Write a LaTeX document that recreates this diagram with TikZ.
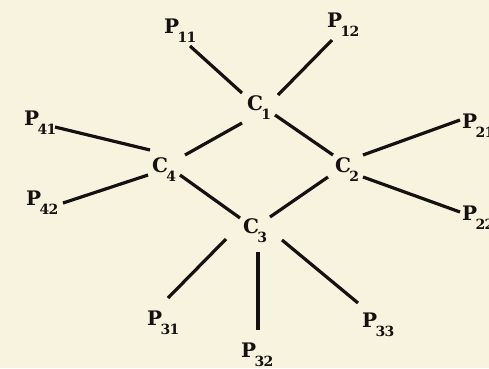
\documentclass[tikz,border=0pt]{standalone}
\usepackage{fontspec}
\setmainfont{DejaVu Serif}
\usepackage{xcolor}
\definecolor{paper}{RGB}{248,243,222}
\definecolor{ink}{RGB}{20,18,16}
\newcommand{\lbl}[2]{#1\kern-1.5pt\raisebox{-9pt}{\fontsize{14}{14}\selectfont\addfontfeatures{LetterSpace=-4} #2}}
\begin{document}
\begin{tikzpicture}[x=1pt,y=-1pt,
  lab/.style={inner sep=0pt, outer sep=0pt, anchor=base west, text=ink, font=\fontsize{20}{20}\selectfont\bfseries},
  bond/.style={draw=ink, line width=3.2pt}]
\fill[paper] (0,0) rectangle (489,368);
\useasboundingbox (0,0) rectangle (489,368);
\begin{scope}
\clip (0,0) rectangle (489,368);
\node[lab] (C1) at (247,110) {\lbl{C}{1}};
\node[lab] (C2) at (335,172) {\lbl{C}{2}};
\node[lab] (C3) at (243,233) {\lbl{C}{3}};
\node[lab] (C4) at (152,172) {\lbl{C}{4}};
\node[lab] (P11) at (164,33) {\lbl{P}{11}};
\node[lab] (P12) at (327,27) {\lbl{P}{12}};
\node[lab] (P21) at (462,128) {\lbl{P}{21}};
\node[lab] (P22) at (462,220) {\lbl{P}{22}};
\node[lab] (P31) at (147,325) {\lbl{P}{31}};
\node[lab] (P32) at (241,357) {\lbl{P}{32}};
\node[lab] (P33) at (362,327) {\lbl{P}{33}};
\node[lab] (P41) at (24,125) {\lbl{P}{41}};
\node[lab] (P42) at (26,205) {\lbl{P}{42}};
\end{scope}
\draw[bond] ([shift={(26,13)}]P11.base west) -- ([shift={(-5,-17)}]C1.base west);
\draw[bond] ([shift={(5,13)}]P12.base west) -- ([shift={(31,-15)}]C1.base west);
\draw[bond] ([shift={(-5,13)}]C1.base west) -- ([shift={(33,-17)}]C4.base west);
\draw[bond] ([shift={(28,5)}]C1.base west) -- ([shift={(-2,-17)}]C2.base west);
\draw[bond] ([shift={(31,2)}]P41.base west) -- ([shift={(-2,-22)}]C4.base west);
\draw[bond] ([shift={(37,-2)}]P42.base west) -- ([shift={(-4,3)}]C4.base west);
\draw[bond] ([shift={(28,3)}]C4.base west) -- ([shift={(-3,-15)}]C3.base west);
\draw[bond] ([shift={(-7,5)}]C2.base west) -- ([shift={(27,-16)}]C3.base west);
\draw[bond] ([shift={(28,-17)}]C2.base west) -- ([shift={(-2,-8)}]P21.base west);
\draw[bond] ([shift={(28,5)}]C2.base west) -- ([shift={(-2,-8)}]P22.base west);
\draw[bond] ([shift={(-17,6)}]C3.base west) -- ([shift={(21,-27)}]P31.base west);
\draw[bond] ([shift={(15,19)}]C3.base west) -- ([shift={(17,-27)}]P32.base west);
\draw[bond] ([shift={(39,7)}]C3.base west) -- ([shift={(-4,-24)}]P33.base west);
\end{tikzpicture}
\end{document}
